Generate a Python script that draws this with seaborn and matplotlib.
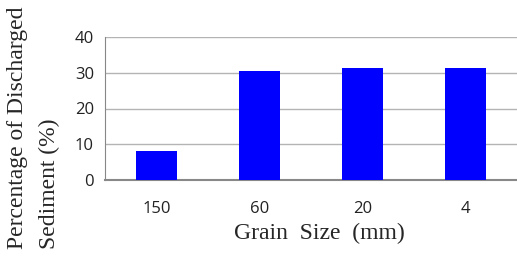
import matplotlib.pyplot as plt
import numpy as np
import pandas as pd
import seaborn as sns

# data
grain_sizes = ["150", "60", "20", "4"]
discharged_pct = [8.0, 30.5, 31.3, 31.3]

df = pd.DataFrame({"grain": grain_sizes, "pct": discharged_pct})

sns.set_style("white")
W, H = 517, 257
fig = plt.figure(figsize=(W / 100, H / 100), dpi=100)
ax = fig.add_axes([105 / W, 1 - 180 / H, (517 - 105) / W, (180 - 37) / H])

sns.barplot(data=df, x="grain", y="pct", color="#0000FF", saturation=1,
            width=0.4, linewidth=0, ax=ax, zorder=3)

ax.set_ylim(0, 40)
ax.set_yticks([0, 10, 20, 30, 40])
ax.set_xlim(-0.5, len(grain_sizes) - 0.5)
ax.yaxis.grid(True, color="#b4b4b4", linewidth=1, zorder=0)

# category boundary ticks on the x axis
ax.set_xticks(np.arange(len(grain_sizes) + 1) - 0.5, minor=True)
ax.tick_params(axis="x", which="minor", length=5, width=1, color="#888888", direction="out")
ax.tick_params(axis="x", which="major", length=0, pad=15)
ax.tick_params(axis="y", length=0, pad=8)
ax.set_xticks(range(len(grain_sizes)))
ax.set_xticklabels(grain_sizes)
for lbl in ax.get_xticklabels() + ax.get_yticklabels():
    lbl.set_fontfamily("Open Sans")
    lbl.set_fontsize(12)
    lbl.set_color("#222222")

for s in ["top", "right"]:
    ax.spines[s].set_visible(False)
ax.spines["left"].set_color("#888888")
ax.spines["bottom"].set_color("#888888")
ax.spines["bottom"].set_linewidth(1.5)

ax.set_xlabel("")
ax.set_ylabel("")
fig.text(319 / W, 1 - 233 / H, "Grain  Size  (mm)", ha="center", va="center",
         family="Liberation Serif", fontsize=17)
fig.text(18 / W, 8 / H, "Percentage of Discharged", rotation=90, ha="center",
         va="bottom", family="Liberation Serif", fontsize=17)
fig.text(49 / W, 8 / H, "Sediment (%)", rotation=90, ha="center",
         va="bottom", family="Liberation Serif", fontsize=17)

fig.savefig("out.png", dpi=100)
